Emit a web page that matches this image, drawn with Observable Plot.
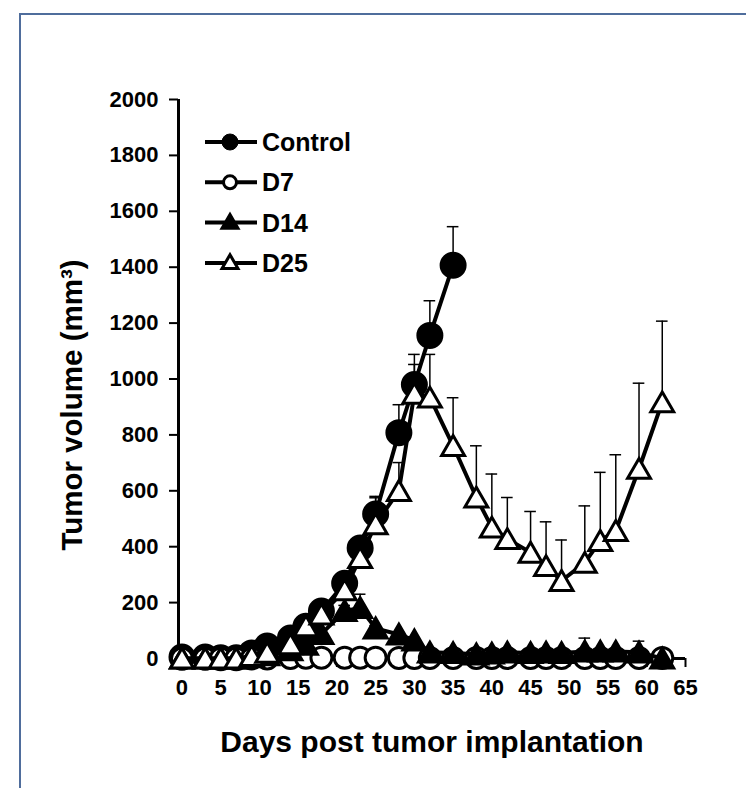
<!DOCTYPE html>
<html><head><meta charset="utf-8">
<script src="https://cdn.jsdelivr.net/npm/d3@7"></script>
<script src="https://cdn.jsdelivr.net/npm/@observablehq/plot@0.6"></script>
<style>
body{margin:0;background:#fff;}
#wrap{position:relative;width:746px;height:788px;overflow:hidden;}
#chart{position:absolute;left:0;top:0;}
#frame{position:absolute;left:19px;top:13px;width:800px;height:800px;border:2px solid #4f6d9c;box-sizing:border-box;pointer-events:none;}
</style></head><body>
<div id="wrap"><div id="chart"></div><div id="frame"></div></div>
<script>
// ---- data ----
const days = [0,3,5,7,9,11,14,16,18,21,23,25,28,30,32,35,38,40,42,45,47,49,52,54,56,59,62];
const seriesNames = ["Control","D7","D14","D25"];
const controlMean = [5,5,3,3,20,45,73,115,170,269,395,517,808,980,1156,1407];
const controlErr  = [0,0,0,0,3,5,8,10,15,20,25,63,100,108,124,138];
const d7Mean = [0,0,0,0,0,0,2,3,3,3,3,3,2,2,2,2,2,2,2,2,2,2,2,2,2,2,2];
const d7Err  = [0,0,0,0,0,0,1,1,1,1,1,1,1,1,1,1,1,1,1,1,1,1,1,1,1,1,1];
const d14Mean = [0,0,0,0,5,12,30,50,88,170,181,108,86,65,22,20,15,18,22,20,22,20,25,25,25,22,0];
const d14Err  = [0,0,0,0,0,0,5,8,10,20,49,10,8,8,5,5,5,5,5,5,5,5,48,10,10,40,0];
const d25Mean = [0,0,0,0,9,21,51,116,158,245,360,481,600,948,934,761,576,469,428,379,331,278,343,421,457,679,917];
const d25Err  = [0,0,0,0,0,0,0,5,8,10,15,94,101,104,154,172,185,191,148,147,158,146,203,245,272,306,290];
const xTicks = [0,5,10,15,20,25,30,35,40,45,50,55,60,65];
const yTicks = [0,200,400,600,800,1000,1200,1400,1600,1800,2000];
const xTitle = "Days post tumor implantation";
const yTitle = "Tumor volume (mm³)";

// ---- tables ----
function rows(name, means, errs) {
  return means.map((m, i) => ({series: name, day: days[i], value: m, err: errs[i]}));
}
const control = rows("Control", controlMean, controlErr);
const d7 = rows("D7", d7Mean, d7Err);
const d14 = rows("D14", d14Mean, d14Err);
const d25 = rows("D25", d25Mean, d25Err);

const FONT = "'Liberation Sans', Arial, sans-serif";
const capHalf = 0.75; // cap half width in days

function errMarks(data) {
  const d = data.filter(r => r.err > 0);
  return [
    Plot.ruleX(d, {x: "day", y1: "value", y2: r => r.value + r.err, stroke: "black", strokeWidth: 1.5}),
    Plot.ruleY(d, {y: r => r.value + r.err, x1: r => r.day - capHalf, x2: r => r.day + capHalf, stroke: "black", strokeWidth: 1.5})
  ];
}
function lineMark(data) {
  return Plot.line(data, {x: "day", y: "value", stroke: "black", strokeWidth: 4});
}

const styles = {
  Control: {symbol: "circle", fill: "black", r: 12.5, sw: 2},
  D7: {symbol: "circle", fill: "white", r: 10.5, sw: 3},
  D14: {symbol: "triangle", fill: "black", r: 8.5, sw: 3},
  D25: {symbol: "triangle", fill: "white", r: 8.5, sw: 3}
};
function dotMark(data, name) {
  const s = styles[name];
  return Plot.dot(data, {x: "day", y: "value", symbol: s.symbol, r: s.r, fill: s.fill, stroke: "black", strokeWidth: s.sw, dy: s.symbol === "triangle" ? 3 : 0});
}

function legend() {
  const g = d3.create("svg:g").attr("font-family", FONT).attr("font-weight", "bold");
  seriesNames.forEach((name, i) => {
    const y = 142 + i * 40.3;
    const s = styles[name];
    g.append("line").attr("x1", 205).attr("x2", 257).attr("y1", y).attr("y2", y)
      .attr("stroke", "black").attr("stroke-width", 4);
    if (s.symbol === "circle") {
      g.append("circle").attr("cx", 230).attr("cy", y).attr("r", name === "Control" ? 8 : 6.5)
        .attr("fill", s.fill).attr("stroke", "black").attr("stroke-width", name === "Control" ? 1 : 3);
    } else {
      g.append("path").attr("d", d3.symbol(d3.symbolTriangle, 110)())
        .attr("transform", `translate(230,${y + 1})`)
        .attr("fill", s.fill).attr("stroke", "black").attr("stroke-width", 3);
    }
    g.append("text").attr("x", 262).attr("y", y).attr("dy", "0.36em")
      .attr("text-anchor", "start")
      .attr("font-size", 25).attr("fill", "black").text(name);
  });
  return g.node();
}

const chart = Plot.plot({
  width: 746,
  height: 788,
  marginLeft: 178,
  marginRight: 61,
  marginTop: 99,
  marginBottom: 130,
  style: {fontFamily: FONT, background: "transparent"},
  x: {domain: [-0.45, 65]},
  y: {domain: [0, 2000]},
  marks: [
    Plot.axisY({ticks: yTicks, tickFormat: d => String(d), tickSize: 9, tickPadding: 11, fontSize: 22, fontWeight: "bold", label: null, strokeWidth: 2, fill: "black"}),
    Plot.axisX({ticks: xTicks, tickFormat: d => String(d), tickSize: 9, tickPadding: 12, fontSize: 22, fontWeight: "bold", label: null, strokeWidth: 2, fill: "black"}),
    Plot.ruleX([-0.45], {stroke: "black", strokeWidth: 3}),
    Plot.ruleY([0], {stroke: "black", strokeWidth: 3}),
    Plot.text([yTitle], {frameAnchor: "left", textAnchor: "middle", rotate: -90, dx: -106, dy: 26, fontSize: 29.5, fontWeight: "bold", fill: "black"}),
    Plot.text([xTitle], {frameAnchor: "bottom", dy: 93, fontSize: 30, fontWeight: "bold", fill: "black"}),
    ...errMarks(control), lineMark(control), dotMark(control, "Control"),
    ...errMarks(d7), lineMark(d7), dotMark(d7, "D7"),
    ...errMarks(d14), lineMark(d14), dotMark(d14, "D14"),
    ...errMarks(d25), lineMark(d25), dotMark(d25, "D25"),
    legend
  ]
});
document.getElementById("chart").appendChild(chart);
</script>
</body></html>
